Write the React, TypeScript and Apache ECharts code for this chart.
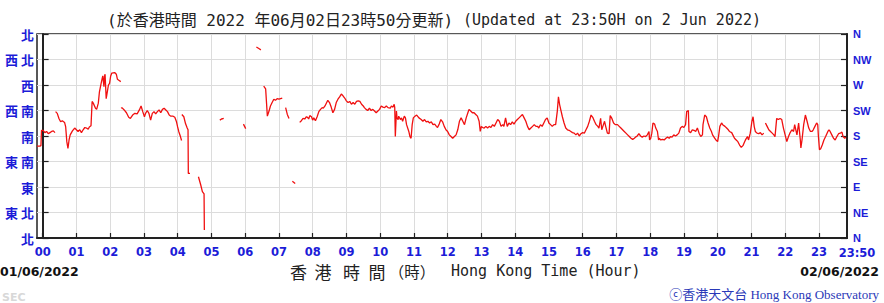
import React, { useEffect, useRef } from "react";
import * as echarts from "echarts";

// ---- Data (minutes from 00:00 on 01/06/2022, wind direction in degrees) ----
const DIR_ZH = ["北", "東 北", "東", "東 南", "南", "西 南", "西", "西 北", "北"];
const DIR_EN = ["N", "NE", "E", "SE", "S", "SW", "W", "NW", "N"];
const TICK_MINUTES = [0, 60, 120, 180, 240, 300, 360, 420, 480, 540, 600, 660, 720, 780, 840, 900, 960, 1020, 1080, 1140, 1200, 1260, 1320, 1380];
const LABEL_TEXT = ["00", "01", "02", "03", "04", "05", "06", "07", "08", "09", "10", "11", "12", "13", "14", "15", "16", "17", "18", "19", "20", "21", "22", "23"];
const END_LABEL = "23:50";

const SEG_01 = [[-10,162],[-5,162],[-3,163],[-2,190],[1,190],[4,186],[7,188],[10,184],[13,186],[16,188],[19,189],[22,186]];
const SEG_02 = [[23,223],[26,220],[29,211],[32,205],[35,207],[39,204],[41,196],[43,170],[45,158],[47,173],[49,182],[53,189],[57,194],[60,191],[63,188],[66,191],[69,186],[72,191],[75,195],[78,194],[81,192],[83,196],[86,198],[88,241],[90,238],[94,229],[96,227],[99,238],[101,258],[104,273],[106,282],[107,286],[109,267],[110,285],[111,289],[113,246],[115,258],[117,270],[119,273],[121,286],[123,291],[128,292],[131,289],[133,280],[136,278],[139,276]];
const SEG_03 = [[139.5,229],[141,230],[145,226],[149,221],[153,213],[156,211],[160,217],[164,220],[168,219],[172,226],[175,233],[178,223],[181,214],[183,220],[186,225],[189,220],[192,208],[195,220],[198,223],[201,219],[204,223],[207,226],[210,221],[213,227],[216,229],[219,226],[222,223],[225,217],[228,215],[232,215],[235,213],[238,205],[240,196],[242,188],[245,179],[247,172]];
const SEG_04 = [[247.5,218],[251,214],[254,202],[257,194],[258.5,191],[259,114],[262,114]];
const SEG_05 = [[277,108],[281,94],[284,82],[287,78],[287.5,14]];
const SEG_06 = [[315,208],[318,210],[322,211]];
const SEG_07 = [[357,201],[359,197],[361,193]];
const SEG_08 = [[380,337],[385,334],[388,332]];
const SEG_09 = [[393,268],[396.5,263],[398,239],[399.5,215],[402.5,224],[405,233],[408,239],[411,245],[414,243],[417,246],[420,245],[423,246],[426,247]];
const SEG_10 = [[432,230],[435,218],[438,211]];
const SEG_11 = [[444,100],[449,96]];
const SEG_12 = [[457,204],[460,207],[463,211],[466,210],[469,214],[471,213],[473,210],[475,216],[478,214],[480,208],[482,212],[485,207],[488,214],[491,223],[494,227],[497,230],[499,229],[502,233],[505,239],[507,243],[510,239],[513,231],[516,221],[519,227],[522,239],[525,245],[528,249],[531,254],[534,251],[537,247],[540,242],[543,239],[546,241],[549,236],[552,239],[555,236],[558,241],[561,242],[564,241],[567,236],[570,233],[572,230],[575,227],[578,225],[581,229],[584,225],[587,227],[590,224],[593,221],[596,224],[599,227],[602,233],[605,231],[608,230],[611,233],[614,230],[618,229],[620,233],[623,231],[625,236],[626,230],[627,179],[629,224],[630,212],[632,209],[633,215],[636,209],[638,212],[640,206],[643,215],[645,212],[647,200],[651,188],[653,179],[655,176],[657,200],[659,212],[662,215],[665,217],[669,212],[673,209],[676,206],[679,209],[682,205],[685,206],[688,203],[691,205],[694,200],[697,201],[700,197],[702,195],[705,201],[708,209],[711,205],[714,197],[717,191],[720,188],[723,182],[726,179],[729,176],[732,179],[735,182],[738,191],[741,206],[744,212],[747,206],[750,200],[753,212],[756,221],[758,227],[761,224],[764,221],[767,221],[770,218],[773,215],[776,206],[778,188],[780,197],[782,195],[785,194],[788,197],[791,194],[794,197],[797,195],[800,200],[803,197],[806,203],[809,209],[812,206],[815,197],[818,200],[820,197],[823,212],[826,197],[829,203],[832,200],[835,205],[838,201],[841,206],[844,209],[847,212],[850,215],[853,218],[856,212],[859,206],[862,197],[865,191],[868,194],[871,197],[874,200],[877,197],[880,197],[882,194],[885,200],[888,197],[891,203],[894,209],[897,212],[900,203],[903,200],[906,197],[909,200],[912,200],[915,224],[917,249],[919,236],[921,227],[924,214],[927,203],[930,194],[933,191],[936,190],[939,188],[942,186],[945,185],[948,182],[951,185],[954,180],[957,184],[960,186],[963,185],[966,191],[969,197],[972,206],[975,217],[978,213],[981,206],[984,200],[987,197],[989,194],[992,211],[994,191],[996,197],[999,206],[1001,197],[1004,185],[1007,184],[1009,216],[1012,211],[1015,203],[1018,200],[1022,200],[1025,197],[1028,194],[1031,191],[1034,188],[1037,185],[1040,182],[1043,179],[1046,176],[1049,174],[1052,176],[1054,178],[1057,180],[1060,184],[1063,180],[1066,178],[1069,180],[1072,179],[1075,182],[1078,188],[1079,173],[1081,176],[1083,185],[1085,203],[1088,201],[1090,194],[1093,188],[1095,173],[1096,176],[1099,173],[1102,174],[1105,173],[1108,176],[1111,178],[1114,176],[1116,179],[1119,178],[1122,182],[1125,180],[1128,182],[1131,185],[1134,194],[1137,197],[1140,195],[1143,200],[1145,223],[1148,225],[1149,188],[1152,186],[1155,191],[1158,190],[1161,188],[1164,194],[1167,185],[1170,179],[1173,182],[1174,200],[1177,217],[1180,214],[1183,203],[1186,194],[1189,188],[1191,182],[1195,176],[1197,173],[1200,170],[1202,182],[1204,197],[1207,203],[1209,200],[1213,197],[1216,194],[1219,191],[1221,188],[1225,186],[1227,182],[1230,176],[1233,173],[1236,170],[1239,164],[1242,160],[1245,163],[1248,170],[1250,174],[1253,179],[1255,173],[1258,185],[1261,206],[1263,214],[1265,197],[1267,188],[1270,185],[1273,184],[1276,186],[1279,182],[1282,185]];
const SEG_13 = [[1285,203],[1288,197],[1291,191],[1294,188],[1297,185],[1300,182],[1302,179],[1305,211],[1308,209],[1311,211],[1314,209],[1317,194],[1320,182],[1323,170],[1326,179],[1329,186],[1332,191],[1335,188],[1337,200],[1339,191],[1341,182],[1344,203],[1347,173],[1348,159],[1350,173],[1353,200],[1356,217],[1359,206],[1362,194],[1365,188],[1368,188],[1370,191],[1373,197],[1376,203],[1378,200],[1379,182],[1381,156],[1383,157],[1386,164],[1389,173],[1392,179],[1396,188],[1398,191],[1400,188],[1403,182],[1406,176],[1409,173],[1412,179],[1415,184],[1418,185],[1421,187],[1423,179],[1426,176],[1428,178]];

const SEGMENTS = [SEG_01, SEG_02, SEG_03, SEG_04, SEG_05, SEG_06, SEG_07, SEG_08, SEG_09, SEG_10, SEG_11, SEG_12, SEG_13];

const BLUE = "#1c1cd8";
const MONO = '"DejaVu Sans Mono", "Noto Sans CJK TC", monospace';
const CJK = '"Noto Sans CJK TC", sans-serif';
const XLABEL_FONT = 'bold 11.5px "DejaVu Sans", sans-serif';

function txt(text: string, x: number, y: number, font: string, fill: string, align = "left") {
  return {
    type: "text",
    x,
    y,
    silent: true,
    style: { text, font, fill, align, verticalAlign: "middle", textAlign: align, textVerticalAlign: "middle" },
  };
}

export default function App() {
  const ref = useRef<HTMLDivElement>(null);
  useEffect(() => {
    if (!ref.current) return;
    const chart = echarts.init(ref.current, null, { renderer: "svg" });
    const option: any = {
      animation: false,
      backgroundColor: "#fff",
      grid: { left: 37, right: 37, top: 34, bottom: 65, show: true, borderColor: "#222", borderWidth: 1.5, backgroundColor: "#fff" },
      xAxis: {
        type: "value",
        min: -10,
        max: 1430,
        axisLine: { show: true, onZero: false, lineStyle: { color: "#222", width: 2 } },
        axisTick: { show: true, inside: true, length: 5, customValues: TICK_MINUTES, lineStyle: { color: "#222", width: 1.2 } },
        axisLabel: {
          customValues: TICK_MINUTES,
          formatter: (v: number) => {
            const i = TICK_MINUTES.indexOf(Math.round(v));
            return i >= 0 ? LABEL_TEXT[i] : "";
          },
          color: BLUE,
          fontWeight: "bold",
          fontSize: 11.5,
          fontFamily: '"DejaVu Sans", sans-serif',
          margin: 8,
        },
        splitLine: { show: true, lineStyle: { color: "#dcdcdc", width: 1 } },
      },
      yAxis: [
        {
          type: "value",
          position: "left",
          min: 0,
          max: 360,
          interval: 45,
          axisLine: { show: true, lineStyle: { color: "#222", width: 2 } },
          axisTick: { show: true, inside: true, length: 6, lineStyle: { color: "#222", width: 1.2 } },
          axisLabel: {
            formatter: (v: number) => DIR_ZH[Math.round(v / 45)],
            color: BLUE,
            fontWeight: "bold",
            fontSize: 13,
            fontFamily: CJK,
            margin: 3,
          },
          splitLine: { show: true, lineStyle: { color: "#dcdcdc", width: 1 } },
        },
        {
          type: "value",
          position: "right",
          min: 0,
          max: 360,
          interval: 45,
          axisLine: { show: true, lineStyle: { color: "#222", width: 2 } },
          axisTick: { show: true, inside: true, length: 6, lineStyle: { color: "#222", width: 1.2 } },
          axisLabel: {
            formatter: (v: number) => DIR_EN[Math.round(v / 45)],
            color: BLUE,
            fontWeight: "bold",
            fontSize: 11,
            fontFamily: '"Liberation Sans", sans-serif',
            margin: 6,
          },
          splitLine: { show: false },
        },
      ],
      series: SEGMENTS.map((seg) => ({
        type: "line",
        data: seg,
        yAxisIndex: 0,
        showSymbol: false,
        symbol: "none",
        silent: true,
        lineStyle: { color: "#f01010", width: 1.3 },
      })),
      graphic: [
        txt("(於香港時間 2022 年06月02日23時50分更新)", 107, 20, "16px " + MONO, "#222"),
        txt("(Updated at 23:50H on 2 Jun 2022)", 463, 20, "15px " + MONO, "#222"),
        txt(END_LABEL, 857, 253, XLABEL_FONT, BLUE, "center"),
        txt("01/06/2022", 0, 271, 'bold 12.5px "DejaVu Sans", sans-serif', "#111"),
        txt("香", 298.5, 271, "17px " + CJK, "#222", "center"),
        txt("港", 323, 271, "17px " + CJK, "#222", "center"),
        txt("時", 351.5, 271, "17px " + CJK, "#222", "center"),
        txt("間", 377, 271, "17px " + CJK, "#222", "center"),
        txt("（時）", 412, 271, "15.5px " + CJK, "#222", "center"),
        txt("Hong Kong Time (Hour)", 451, 271, "15px " + MONO, "#222"),
        txt("02/06/2022", 879, 271, 'bold 12.5px "DejaVu Sans", sans-serif', "#111", "right"),
        txt("SEC", 2, 297, 'bold 11px "DejaVu Sans", sans-serif', "#d8d8d8"),
        txt("ⓒ香港天文台 Hong Kong Observatory", 879, 294, '13px "Liberation Serif", "Noto Sans CJK TC", serif', "#2a38b8", "right"),
      ],
    };
    chart.setOption(option);
    return () => chart.dispose();
  }, []);
  return <div ref={ref} style={{ position: "fixed", left: 0, top: 0, width: 884, height: 303, background: "#fff" }} />;
}
